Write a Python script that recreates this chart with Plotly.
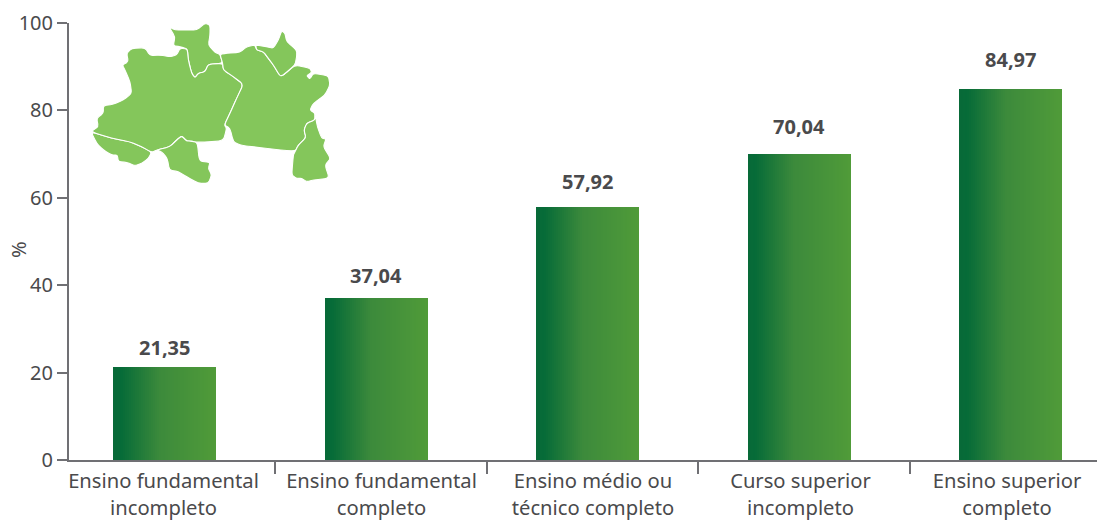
import plotly.graph_objects as go

categories = ["Ensino fundamental<br>incompleto", "Ensino fundamental<br>completo",
              "Ensino médio ou<br>técnico completo", "Curso superior<br>incompleto",
              "Ensino superior<br>completo"]
values = [21.35, 37.04, 57.92, 70.04, 84.97]
value_labels = ["21,35", "37,04", "57,92", "70,04", "84,97"]
y_ticks = [0, 20, 40, 60, 80, 100]

W, H = 1097, 521
L, R, T, B = 69, 0, 23, 61
positions = list(range(len(values)))
cat_px, first_px = 211.5, 164.5
x_range = [(L - first_px) / cat_px, (W - first_px) / cat_px]
bar_w = 103 / cat_px
label_gap = [19, 23, 25, 27, 29]
tick_label_shift_px = [-1, 5.5, 5.5, 1.5, -3.5]

TXT = "#4a4a4c"
AXIS = "#707074"
FONT = "Noto Sans"
stops = [(0, (8, 106, 56)), (0.08, (6, 107, 56)), (0.45, (60, 138, 59)), (1, (80, 155, 57))]


def grad(t):
    for (a, ca), (b, cb) in zip(stops, stops[1:]):
        if t <= b:
            f = (t - a) / (b - a)
            return "rgb(%d,%d,%d)" % tuple(round(p + (q - p) * f) for p, q in zip(ca, cb))
    return "rgb(%d,%d,%d)" % stops[-1][1]


fig = go.Figure()
N = 52
for k in range(N):
    start = k / N
    fig.add_bar(x=positions, y=values, width=bar_w * (1 - start), offset=-bar_w / 2 + bar_w * start,
                marker=dict(color=grad((k + 0.5) / N), line_width=0),
                showlegend=False, hoverinfo="skip")

for i, v in enumerate(values):
    fig.add_annotation(x=i, y=v, text="<b>%s</b>" % value_labels[i], showarrow=False, yanchor="middle",
                       yshift=label_gap[i], font=dict(family=FONT, size=20, color=TXT))
fig.add_annotation(xref="paper", yref="paper", x=(18 - L) / (W - L), y=1 - (250 - T) / (H - T - B),
                   xanchor="center", yanchor="middle",
                   text="%", textangle=-90, showarrow=False, font=dict(family=FONT, size=20, color=TXT))

# decorative region map (zoomed reference pixels: x/3+80, y/3+15)
regions = [
    [(33,350),(95,370),(150,380),(185,395),(215,412),(205,430),(185,445),(165,452),(140,442),(115,440),(112,420),(95,420),(70,405),(50,385)],
    [(267,35),(285,45),(320,45),(350,45),(375,25),(390,30),(390,60),(385,90),(405,112),(420,118),(428,145),(385,148),(375,170),(355,175),(345,188),(335,175),(325,135),(322,102),(300,95),(280,92),(285,65)],
    [(33,350),(55,335),(50,310),(70,295),(70,272),(100,268),(130,255),(155,235),(150,200),(135,165),(127,150),(145,140),(140,115),(155,100),(195,98),(210,122),(240,120),(270,125),(290,120),(300,100),(322,102),(325,135),(335,175),(345,188),(355,175),(375,170),(385,148),(428,145),(430,165),(460,185),(490,208),(470,250),(450,295),(433,330),(440,340),(430,378),(350,382),(330,378),(320,378),(305,363),(290,375),(270,395),(230,405),(215,412),(185,395),(150,380),(95,370)],
    [(230,405),(270,395),(290,375),(305,363),(320,378),(330,378),(352,382),(358,438),(390,442),(385,460),(395,480),(385,505),(355,505),(320,485),(295,470),(268,465),(262,430),(245,410)],
    [(420,118),(440,115),(480,112),(500,95),(525,90),(530,105),(550,110),(565,130),(580,150),(600,183),(610,180),(645,150),(690,160),(695,172),(680,182),(690,192),(700,175),(745,182),(750,210),(735,240),(700,265),(690,285),(705,295),(705,315),(680,325),(672,345),(678,368),(655,390),(645,410),(500,393),(480,390),(460,380),(450,340),(433,330),(450,295),(470,250),(490,208),(460,185),(430,165),(428,145)],
    [(527,90),(560,95),(580,100),(595,75),(605,47),(615,55),(620,80),(650,105),(650,125),(645,150),(610,180),(600,183),(580,150),(565,130),(550,110),(530,105)],
    [(705,295),(712,335),(725,370),(738,372),(730,395),(752,430),(735,450),(748,490),(700,495),(680,500),(665,490),(650,490),(635,480),(640,420),(645,410),(655,390),(678,368),(672,345),(680,325),(705,315)],
]


def lerp(a, b, f):
    return (a[0] + (b[0] - a[0]) * f, a[1] + (b[1] - a[1]) * f)


shapes = []
for reg in regions:
    pts = [((x / 3 + 80 - L) / (W - L), 1 - (y / 3 + 15 - T) / (H - T - B)) for x, y in reg]
    n = len(pts)
    path = "M %.5f %.5f " % lerp(pts[-1], pts[0], 0.7)
    for i in range(n):
        nxt = pts[(i + 1) % n]
        a = lerp(pts[i], nxt, 0.3)
        b = lerp(pts[i], nxt, 0.7)
        path += "Q %.5f %.5f %.5f %.5f L %.5f %.5f " % (pts[i][0], pts[i][1], a[0], a[1], b[0], b[1])
    path += "Z"
    shapes.append(dict(type="path", xref="paper", yref="paper", path=path, layer="above",
                       fillcolor="#84c65b", line=dict(color="white", width=1.1)))


def tick_html(text):
    return "<br>".join('<span style="font-size:20.2px">%s</span>' % s for s in text.split("<br>"))


fig.update_layout(
    width=W, height=H, autosize=False, barmode="overlay", bargap=0,
    margin=dict(l=L, r=R, t=T, b=B, pad=0),
    paper_bgcolor="white", plot_bgcolor="white", shapes=shapes,
    font=dict(family=FONT, size=20, color=TXT),
    xaxis=dict(range=x_range, tickmode="array",
               tickvals=[p + s / cat_px for p, s in zip(positions, tick_label_shift_px)],
               ticktext=[tick_html(c) for c in categories],
               ticks="", showgrid=False, zeroline=False, showline=True, linecolor=AXIS, linewidth=2,
               tickfont=dict(family=FONT, size=20.6, color=TXT), tickangle=0, automargin=False,
               ticklabelstandoff=1,
               minor=dict(tick0=(275 - first_px) / cat_px, dtick=1, ticks="outside", ticklen=12, tickwidth=2,
                          tickcolor=AXIS, showgrid=False)),
    yaxis=dict(range=[0, 100], tickmode="array", tickvals=y_ticks, ticks="outside", ticklen=10, tickwidth=2,
               tickcolor=AXIS, showgrid=False, zeroline=False, showline=True, linecolor=AXIS, linewidth=2,
               tickfont=dict(family=FONT, size=20, color=TXT), automargin=False),
)
fig.write_html("out.html", config=dict(displayModeBar=False),
               post_script="document.body.style.margin='0';")
